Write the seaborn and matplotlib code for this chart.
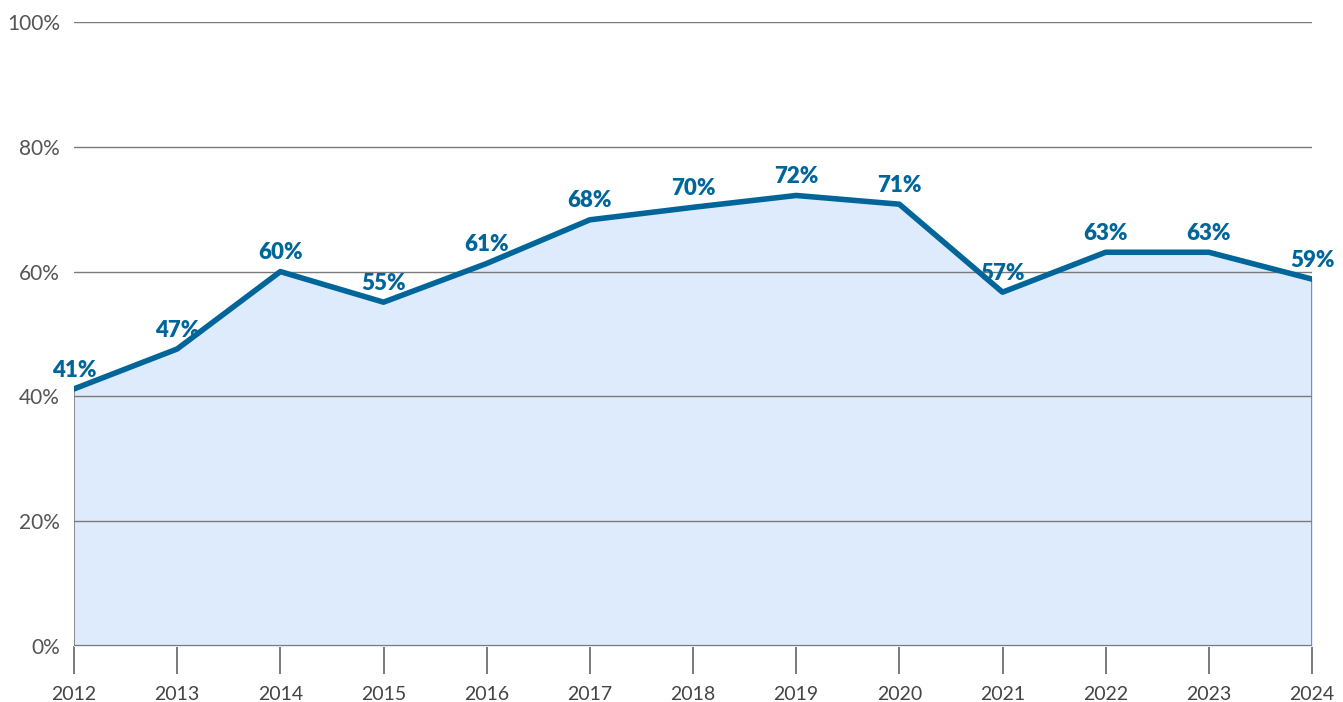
import numpy as np
import pandas as pd
import matplotlib
matplotlib.use("Agg")
import matplotlib.pyplot as plt
import seaborn as sns

years = [2012, 2013, 2014, 2015, 2016, 2017, 2018, 2019, 2020, 2021, 2022, 2023, 2024]
values = [41.2, 47.6, 60.0, 55.1, 61.3, 68.3, 70.3, 72.2, 70.8, 56.7, 63.1, 63.1, 58.8]
labels = ["41%", "47%", "60%", "55%", "61%", "68%", "70%", "72%", "71%", "57%", "63%", "63%", "59%"]
yticks = [0, 20, 40, 60, 80, 100]

df = pd.DataFrame({"year": years, "value": values})

sns.set_style("white")
plt.rcParams["font.family"] = ["Lato", "DejaVu Sans"]

line_col = "#00669a"
fill_col = "#deebfc"
grid_col = "#7a7a7a"

fig = plt.figure(figsize=(13.43, 7.02), dpi=100)
ax = fig.add_axes([74 / 1343, 56 / 702, (1312 - 74) / 1343, (646 - 22) / 702])

ax.fill_between(df["year"], 0, df["value"], color=fill_col, zorder=1)
for yv in yticks:
    ax.axhline(yv, color=grid_col, lw=1.0 if yv else 1.6, zorder=2)
ax.vlines([years[0], years[-1]], 0, [values[0], values[-1]], color=grid_col, lw=1.2, zorder=2)
sns.lineplot(data=df, x="year", y="value", color=line_col, lw=4, ax=ax, zorder=3)

for x, y, t in zip(years, values, labels):
    ax.annotate(t, (x, y), xytext=(0, 6), textcoords="offset points", ha="center", va="bottom",
                fontsize=16, fontweight="heavy", color=line_col, zorder=4)

ax.set_xlim(years[0], years[-1])
ax.set_ylim(0, 100)
ax.set_xticks(years)
ax.set_yticks(yticks)
ax.set_yticklabels([f"{v}%" for v in yticks])
ax.set_xlabel("")
ax.set_ylabel("")
for s in ax.spines.values():
    s.set_visible(False)
ax.tick_params(axis="x", bottom=True, length=20, width=1.4, color=grid_col, labelsize=14,
               labelcolor="#444444", pad=9)
ax.tick_params(axis="y", left=False, length=0, labelsize=15, labelcolor="#555555", pad=10)

fig.savefig("out.png", dpi=100)
